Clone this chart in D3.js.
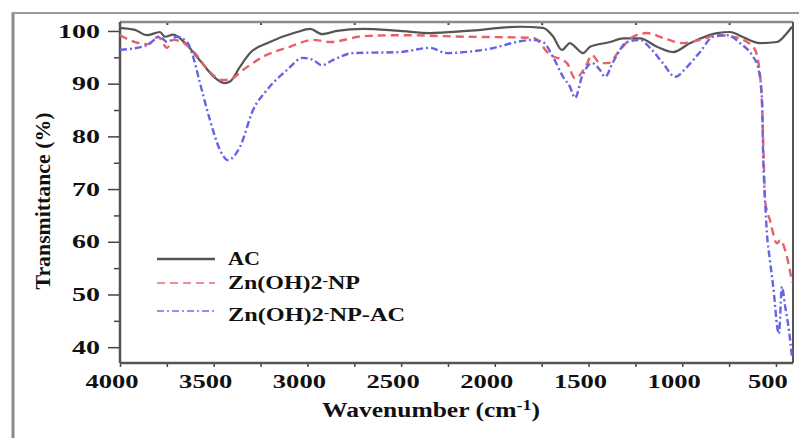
<!DOCTYPE html>
<html>
<head>
<meta charset="utf-8">
<script src="https://cdn.jsdelivr.net/npm/d3@7"></script>
<style>
  body { margin: 0; background: #fff; }
  svg { display: block; }
  text { font-family: "Liberation Serif", "Times New Roman", serif; font-weight: bold; fill: #111; }
</style>
</head>
<body>
<svg id="chart" width="799" height="438"></svg>
<script>
// FTIR spectra, values as [wavenumber, transmittance]
var acData = [[4000,100.6],[3920,100.2],[3856,99.2],[3787,99.8],[3760,98.9],[3717,99.3],[3642,97.3],[3562,93.9],[3493,91.1],[3440,90.1],[3413,90.4],[3360,93.2],[3306,95.8],[3200,97.9],[3056,99.8],[2986,100.4],[2922,99.4],[2842,100],[2703,100.4],[2506,100],[2346,99.6],[2148,100],[1866,100.8],[1743,100.6],[1690,99],[1642,96.4],[1599,97.7],[1572,97],[1529,95.8],[1492,97],[1385,97.9],[1316,98.6],[1225,98.6],[1135,97],[1049,96],[958,97.7],[814,99.6],[745,99.8],[680,98.9],[585,97.7],[494,97.9],[441,99.6],[414,100.8]];

var npData = [[4000,99.2],[3920,97.9],[3851,97.5],[3797,98.9],[3749,96.8],[3717,98.3],[3669,97.9],[3600,95.8],[3530,92.6],[3456,90.7],[3413,90.8],[3344,92.6],[3237,95.1],[3093,97],[2970,98.3],[2879,97.9],[2703,99],[2506,99.2],[2148,98.9],[1796,98.7],[1706,95.5],[1615,93.9],[1572,91],[1519,93],[1481,95.4],[1439,93.9],[1396,93.9],[1332,96.4],[1263,98.9],[1188,99.6],[1103,98.7],[996,97.7],[905,98.3],[814,99.2],[729,98.9],[622,97],[596,94.5],[574,85.6],[564,74.2],[558,67.9],[532,64.1],[494,59.7],[478,60.3],[441,57.1],[414,52.3]];

var npAcData = [[4000,96.4],[3856,97.3],[3787,98.9],[3749,97.9],[3696,98.9],[3642,97.9],[3616,95.8],[3573,90.1],[3520,83.1],[3466,77.4],[3424,75.5],[3360,78],[3290,85],[3216,88.8],[3109,92.6],[3024,94.9],[2970,94.5],[2922,93.5],[2863,94.5],[2757,95.8],[2506,96],[2346,96.8],[2255,95.8],[2063,96.4],[1796,98.3],[1743,97.9],[1690,95.1],[1636,91.3],[1599,89.4],[1572,87.3],[1535,91.3],[1481,93.9],[1439,92.6],[1412,91.3],[1369,94.1],[1295,97.9],[1225,98.3],[1172,96.8],[1103,93.9],[1038,91.3],[974,93.2],[905,96],[836,98.9],[761,99.2],[692,97.7],[622,95.1],[596,93.2],[574,86.9],[569,77.4],[558,67.9],[548,61.6],[532,56.5],[510,50],[494,44],[484,42.5],[468,51.5],[452,48],[430,43],[414,38]];

var seriesNames = ["AC", "Zn(OH)2", "NP"];
var xTicks = [4000, 3500, 3000, 2500, 2000, 1500, 1000, 500];
var yTicks = [100, 90, 80, 70, 60, 50, 40];

var m = { left: 120, right: 793, top: 22, bottom: 363 };
var svg = d3.select("#chart");

var x = d3.scaleLinear().domain([4000, 409]).range([m.left, m.right]);
var y = d3.scaleLinear().domain([37, 101.7]).range([m.bottom, m.top]);

// outer frame of the figure
svg.append("line").attr("x1", 13).attr("x2", 13).attr("y1", 12).attr("y2", 438)
	.attr("stroke", "#8a8a8a").attr("stroke-width", 3);
svg.append("line").attr("x1", 12).attr("x2", 799).attr("y1", 13).attr("y2", 13)
	.attr("stroke", "#9a9a9a").attr("stroke-width", 2);

// minor ticks
var minorY = d3.range(35, 101, 5).filter(function(v) { return v % 10 !== 0 && v > 37; });
svg.append("g").attr("transform", "translate(" + m.left + ",0)")
	.call(d3.axisLeft(y).tickValues(minorY).tickSize(6).tickFormat(""))
	.call(function(g) { g.select(".domain").remove(); g.selectAll("line").attr("stroke", "#444").attr("stroke-width", 1.5); });

var minorX = d3.range(3750, 400, -500);
svg.append("g").attr("transform", "translate(0," + m.top + ")")
	.call(d3.axisTop(x).tickValues(minorX).tickSize(-3).tickFormat(""))
	.call(function(g) { g.select(".domain").remove(); g.selectAll("line").attr("stroke", "#444").attr("stroke-width", 2); });

var xAxis = svg.append("g").attr("transform", "translate(0," + m.bottom + ")")
	.call(d3.axisBottom(x).tickValues(d3.range(4000, 400, -250)).tickSize(4).tickFormat(""));
xAxis.select(".domain").remove();
xAxis.selectAll("line").attr("stroke", "#444").attr("stroke-width", 1.5);

var yAxis = svg.append("g").attr("transform", "translate(" + m.left + ",0)")
	.call(d3.axisLeft(y).tickValues(yTicks).tickSize(12).tickPadding(8));
yAxis.select(".domain").remove();
yAxis.selectAll("line").attr("stroke", "#444").attr("stroke-width", 1.5);
yAxis.selectAll("text")
	.attr("font-size", 18).attr("font-family", null)
	.attr("dy", "0.34em")
	.attr("lengthAdjust", "spacingAndGlyphs")
	.attr("textLength", function(d) { return String(d).length * 14; });

// x labels sit a few px left of their ticks
svg.append("g").selectAll("text").data(xTicks).enter().append("text")
	.attr("x", function(d) { return x(d) - 8; })
	.attr("y", 388)
	.attr("text-anchor", "middle")
	.attr("font-size", 18)
	.attr("lengthAdjust", "spacingAndGlyphs")
	.attr("textLength", function(d) { return String(d).length * 13.3; })
	.text(function(d) { return d; });

// plot frame
svg.append("line").attr("x1", m.left).attr("x2", m.right).attr("y1", m.top).attr("y2", m.top)
	.attr("stroke", "#8a8a8a").attr("stroke-width", 2.5);
svg.append("line").attr("x1", m.right).attr("x2", m.right).attr("y1", m.top).attr("y2", m.bottom)
	.attr("stroke", "#555").attr("stroke-width", 2);
svg.append("line").attr("x1", m.left).attr("x2", m.right).attr("y1", m.bottom).attr("y2", m.bottom)
	.attr("stroke", "#555").attr("stroke-width", 2.5);
svg.append("line").attr("x1", m.left).attr("x2", m.left).attr("y1", m.top).attr("y2", m.bottom)
	.attr("stroke", "#555").attr("stroke-width", 2.5);

var line = d3.line()
	.x(function(d) { return x(d[0]); })
	.y(function(d) { return y(d[1]); })
	.curve(d3.curveMonotoneX);

var styles = [
	{ data: acData, color: "#555", dash: null, width: 2.2 },
	{ data: npData, color: "#e8606a", dash: "8,5", width: 2.4 },
	{ data: npAcData, color: "#6464e6", dash: "7,3,2,3", width: 2.4 }
];

svg.append("g").selectAll("path").data(styles).enter().append("path")
	.attr("d", function(d) { return line(d.data); })
	.attr("fill", "none")
	.attr("stroke", function(d) { return d.color; })
	.attr("stroke-width", function(d) { return d.width; })
	.attr("stroke-dasharray", function(d) { return d.dash; })
	.attr("stroke-linejoin", "round");

// legend
var legY = [259, 283, 311];
var leg = svg.append("g");
leg.selectAll("line").data(styles).enter().append("line")
	.attr("x1", 157).attr("x2", 215)
	.attr("y1", function(d, i) { return legY[i]; })
	.attr("y2", function(d, i) { return legY[i]; })
	.attr("stroke", function(d) { return d.color; })
	.attr("stroke-width", function(d, i) { return i === 0 ? 2.4 : 1.8; })
	.attr("stroke-dasharray", function(d) { return d.dash; })
	.attr("opacity", function(d, i) { return i === 0 ? 1 : 0.7; });

var legText = [
	{ y: 265, parts: [seriesNames[0]], len: 32 },
	{ y: 289, parts: [seriesNames[1], seriesNames[2]], len: 132 },
	{ y: 321, parts: [seriesNames[1], seriesNames[2] + "-AC"], len: 177 }
];
legText.forEach(function(t) {
	var el = leg.append("text").attr("x", 228).attr("y", t.y).attr("font-size", 19)
		.attr("lengthAdjust", "spacingAndGlyphs").attr("textLength", t.len);
	el.append("tspan").text(t.parts[0]);
	if (t.parts.length > 1) {
		el.append("tspan").attr("dy", -4).attr("font-size", 13).text("-");
		el.append("tspan").attr("dy", 4).text(t.parts[1]);
	}
});

// axis titles
var xt = svg.append("text").attr("x", 322).attr("y", 417).attr("font-size", 20)
	.attr("lengthAdjust", "spacingAndGlyphs").attr("textLength", 218);
xt.append("tspan").text("Wavenumber (cm");
xt.append("tspan").attr("dy", -7).attr("font-size", 14).text("-1");
xt.append("tspan").attr("dy", 7).text(")");

svg.append("text")
	.attr("transform", "translate(50,201) rotate(-90)")
	.attr("text-anchor", "middle")
	.attr("font-size", 20)
	.attr("lengthAdjust", "spacingAndGlyphs")
	.attr("textLength", 177)
	.text("Transmittance (%)");
</script>
</body>
</html>
